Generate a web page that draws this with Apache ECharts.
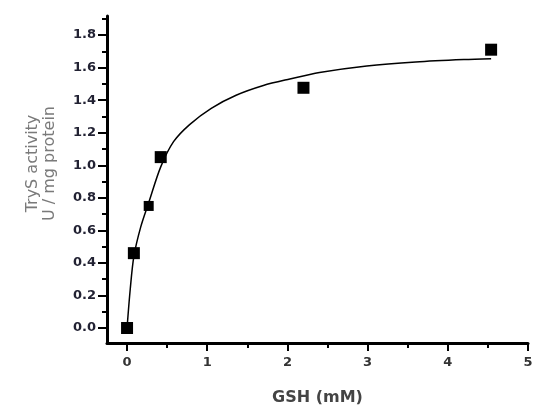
<!DOCTYPE html>
<html>
<head>
<meta charset="utf-8">
<script src="https://cdn.jsdelivr.net/npm/echarts@6/dist/echarts.min.js"></script>
<style>html,body{margin:0;padding:0;background:#fff}#c{width:538px;height:406px}</style>
</head>
<body>
<div id="c"></div>
<script>
// measured points: GSH (mM) vs TryS activity (U / mg protein)
const gsh = [0, 0.085, 0.27, 0.42, 2.2, 4.54];
const activity = [0, 0.46, 0.75, 1.05, 1.476, 1.71];
// fitted curve
const fitX = [0, 0.04, 0.085, 0.17, 0.27, 0.42, 0.58, 0.78, 1.05, 1.36, 1.70, 2.03, 2.40, 2.99, 3.60, 4.20, 4.54];
const fitY = [0, 0.24, 0.44, 0.62, 0.77, 0.99, 1.145, 1.25, 1.35, 1.43, 1.49, 1.53, 1.57, 1.61, 1.635, 1.65, 1.655];
const yTickLabels = [0, 0.2, 0.4, 0.6, 0.8, 1.0, 1.2, 1.4, 1.6, 1.8];
const yMinorTicks = [0.1, 0.3, 0.5, 0.7, 0.9, 1.1, 1.3, 1.5, 1.7, 1.9];
const xTickLabels = [0, 1, 2, 3, 4, 5];
const xMinorTicks = [0.5, 1.5, 2.5, 3.5, 4.5];

const font = 'DejaVu Sans, Arial, sans-serif';
const chart = echarts.init(document.getElementById('c'));
chart.setOption({
  animation: false,
  grid: {left: 107, right: 10, top: 16, bottom: 63, containLabel: false, outerBoundsMode: 'none'},
  xAxis: [
    {
      type: 'value', min: -0.25, max: 5,
      axisLine: {show: true, onZero: false, lineStyle: {color: '#000', width: 3}},
      splitLine: {show: false},
      name: 'GSH (mM)', nameLocation: 'middle', nameGap: 47,
      nameTextStyle: {color: '#444', fontFamily: font, fontSize: 16, fontWeight: 'bold'},
      axisTick: {show: true, inside: false, length: 8, customValues: xTickLabels, lineStyle: {color: '#000', width: 2}},
      axisLabel: {customValues: xTickLabels, color: '#333', fontFamily: font, fontSize: 13, fontWeight: 'bold', margin: 13,
        formatter: v => String(v)}
    },
    {
      type: 'value', min: -0.25, max: 5, position: 'bottom',
      axisLine: {show: false, onZero: false}, splitLine: {show: false}, axisLabel: {show: false},
      axisTick: {show: true, length: 5, customValues: xMinorTicks, lineStyle: {color: '#000', width: 2}}
    }
  ],
  yAxis: [
    {
      type: 'value', min: -0.092, max: 1.917,
      axisLine: {show: true, onZero: false, lineStyle: {color: '#000', width: 3}},
      splitLine: {show: false},
      name: 'TryS activity\nU / mg protein', nameLocation: 'middle', nameGap: 49, nameRotate: 90,
      nameTextStyle: {color: '#7a7a7a', fontFamily: font, fontSize: 16, lineHeight: 17, padding: [0, 0, 0, 32]},
      axisTick: {show: true, length: 9, customValues: yTickLabels, lineStyle: {color: '#000', width: 2}},
      axisLabel: {customValues: yTickLabels, color: '#223', fontFamily: font, fontSize: 13, fontWeight: 'bold', margin: 11,
        formatter: v => v.toFixed(1)}
    },
    {
      type: 'value', min: -0.092, max: 1.917, position: 'left',
      axisLine: {show: false, onZero: false}, splitLine: {show: false}, axisLabel: {show: false},
      axisTick: {show: true, length: 5, customValues: yMinorTicks, lineStyle: {color: '#000', width: 2}}
    }
  ],
  series: [
    {
      type: 'line', data: fitX.map((x, i) => [x, fitY[i]]), smooth: 0.3,
      showSymbol: false, symbol: 'none', lineStyle: {color: '#000', width: 1.5}, z: 2
    },
    {
      type: 'scatter', data: gsh.map((x, i) => [x, activity[i]]),
      symbol: 'rect', symbolSize: (v, p) => p.dataIndex === 2 ? 10 : 12,
      itemStyle: {color: '#000', opacity: 1}, z: 3
    }
  ]
});
</script>
</body>
</html>
